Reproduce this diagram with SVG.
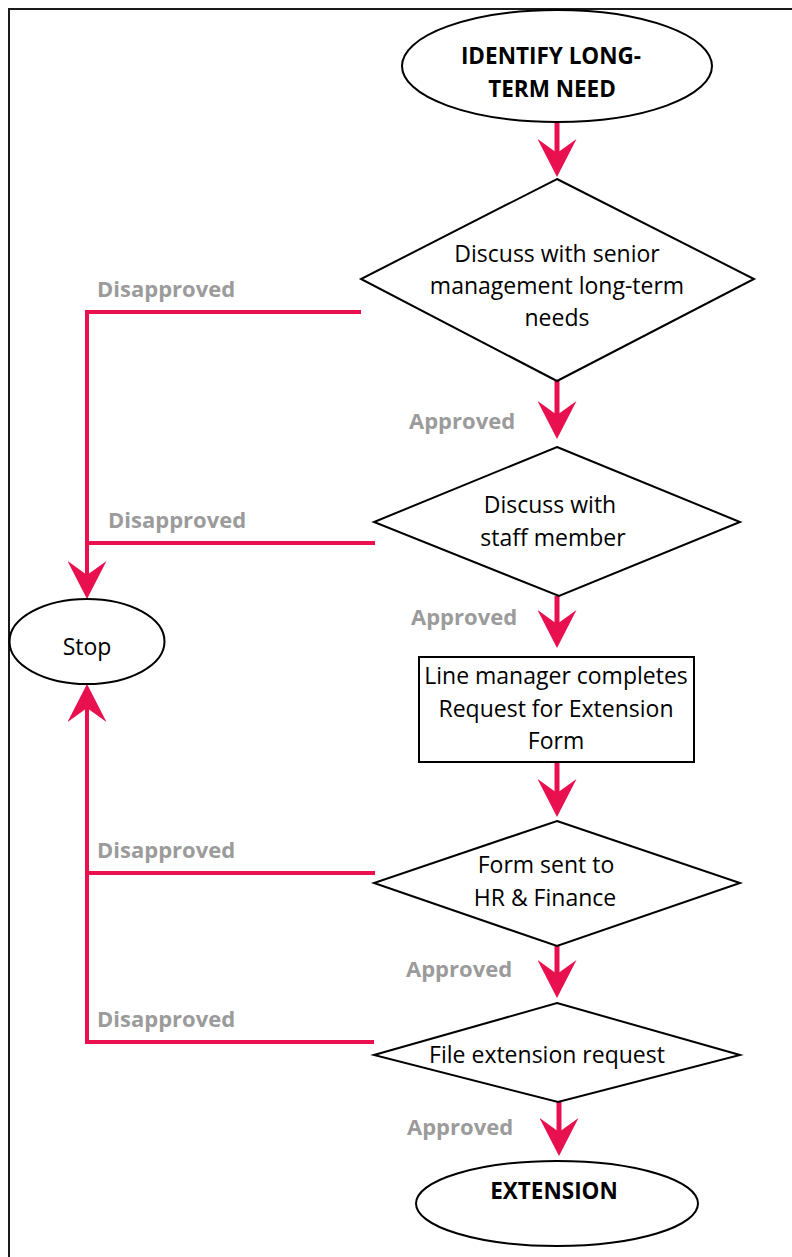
<svg xmlns="http://www.w3.org/2000/svg" width="792" height="1257" viewBox="0 0 792 1257">
  <style>
    .shape { fill: #ffffff; stroke: #000000; stroke-width: 2; }
    .txt { font-family: "Open Sans", "Liberation Sans", sans-serif; font-size: 23px; fill: #000000; text-anchor: middle; }
    .bold { font-weight: bold; font-size: 22.5px; }
    .lbl { font-family: "Open Sans", "Liberation Sans", sans-serif; font-size: 22px; font-weight: bold; fill: #9b9b9b; }
    .flow { fill: none; stroke: #e8104e; stroke-width: 5; }
    .side { fill: none; stroke: #e8104e; stroke-width: 4; }
  </style>
  <defs>
    <marker id="head" viewBox="0 0 38 39" markerWidth="38" markerHeight="39" refX="14" refY="19.5" orient="auto" markerUnits="userSpaceOnUse">
      <path d="M38,19.5 L0,0 L14,19.5 L0,39 Z" fill="#e8104e"/>
    </marker>
  </defs>

  <rect width="792" height="1257" fill="#ffffff"/>
  <!-- page frame -->
  <path d="M9,1257 V9 H792" fill="none" stroke="#1a1a1a" stroke-width="2"/>

  <!-- connectors -->
  <g id="connectors">
    <path class="flow" d="M557,122 V153" marker-end="url(#head)"/>
    <path class="flow" d="M557,381 V415" marker-end="url(#head)"/>
    <path class="flow" d="M557,596 V624" marker-end="url(#head)"/>
    <path class="flow" d="M557,762 V793" marker-end="url(#head)"/>
    <path class="flow" d="M557,946 V974" marker-end="url(#head)"/>
    <path class="flow" d="M559,1102 V1132" marker-end="url(#head)"/>
    <path class="side" d="M361,312 H87 V575" marker-end="url(#head)"/>
    <path class="side" d="M375,543 H87"/>
    <path class="side" d="M375,873 H87"/>
    <path class="side" d="M374,1042 H87 V708" marker-end="url(#head)"/>
    <text class="lbl" x="97" y="297">Disapproved</text>
    <text class="lbl" x="108" y="528">Disapproved</text>
    <text class="lbl" x="97" y="858">Disapproved</text>
    <text class="lbl" x="97" y="1027">Disapproved</text>
    <text class="lbl" x="409" y="429">Approved</text>
    <text class="lbl" x="411" y="625">Approved</text>
    <text class="lbl" x="406" y="977">Approved</text>
    <text class="lbl" x="407" y="1135">Approved</text>
  </g>

  <g id="start">
    <ellipse class="shape" cx="557" cy="66" rx="155" ry="56"/>
    <text class="txt bold" x="551" y="64">IDENTIFY LONG-</text>
    <text class="txt bold" x="552" y="97">TERM NEED</text>
  </g>

  <g id="senior">
    <polygon class="shape" points="557,179 754,279 557,381 361,279"/>
    <text class="txt" x="557" y="262">Discuss with senior</text>
    <text class="txt" x="557" y="294">management long-term</text>
    <text class="txt" x="557" y="326">needs</text>
  </g>

  <g id="staff">
    <polygon class="shape" points="557,447 740,522 559,596 374,522"/>
    <text class="txt" x="550" y="513">Discuss with</text>
    <text class="txt" x="553" y="546">staff member</text>
  </g>

  <g id="stop">
    <ellipse class="shape" cx="87" cy="641.5" rx="77.5" ry="42.5"/>
    <text class="txt" x="87" y="655">Stop</text>
  </g>

  <g id="form">
    <rect class="shape" x="419" y="657" width="275" height="105"/>
    <text class="txt" x="556" y="684">Line manager completes</text>
    <text class="txt" x="556" y="717">Request for Extension</text>
    <text class="txt" x="556" y="749">Form</text>
  </g>

  <g id="hr">
    <polygon class="shape" points="557,821 740,883 557,946 374,883"/>
    <text class="txt" x="546" y="873">Form sent to</text>
    <text class="txt" x="545" y="906">HR &amp; Finance</text>
  </g>

  <g id="file">
    <polygon class="shape" points="557,1003 740,1055 558,1102 374,1055"/>
    <text class="txt" x="547" y="1063">File extension request</text>
  </g>

  <g id="extension">
    <ellipse class="shape" cx="557" cy="1203.5" rx="141" ry="42.5"/>
    <text class="txt bold" x="554" y="1199">EXTENSION</text>
  </g>
</svg>
